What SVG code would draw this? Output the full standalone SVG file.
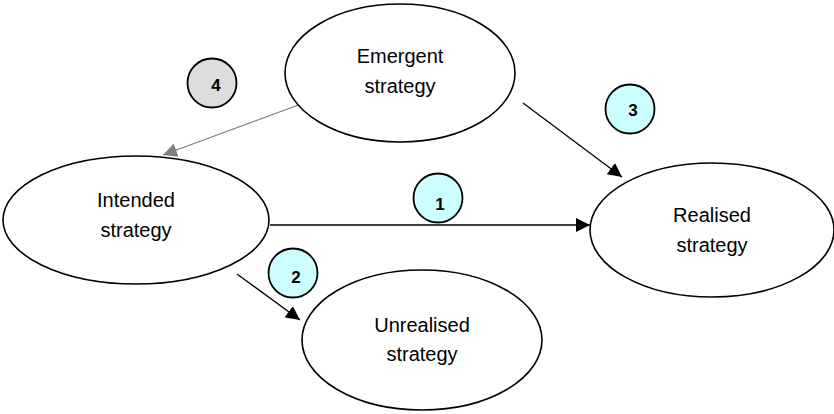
<svg xmlns="http://www.w3.org/2000/svg" width="834" height="414" viewBox="0 0 834 414">
<defs>
<style>
.node ellipse{fill:#fff;stroke:#000;stroke-width:1.6}
.lbl{font-family:"Liberation Sans",Arial,sans-serif;font-size:20px;text-anchor:middle;fill:#000}
.badge circle{stroke:#000;stroke-width:1.8}
.badge text{font-family:"Liberation Sans",Arial,sans-serif;font-size:17px;font-weight:bold;text-anchor:middle;fill:#000}
.cyan{fill:#ccffff}
.grey{fill:#dddddd}
.conn line{stroke-width:1.3}
</style>
<marker id="ah" viewBox="0 0 10 10" refX="10" refY="5" markerWidth="14" markerHeight="14" markerUnits="userSpaceOnUse" orient="auto"><path d="M0,0L10,5L0,10z" fill="#000"/></marker>
<marker id="ahg" viewBox="0 0 10 10" refX="10" refY="5" markerWidth="14" markerHeight="14" markerUnits="userSpaceOnUse" orient="auto"><path d="M0,0L10,5L0,10z" fill="#808080"/></marker>
</defs>
<rect width="834" height="414" fill="#fff"/>
<g id="connectors" class="conn">
<line x1="301" y1="104" x2="163" y2="155" stroke="#808080" marker-end="url(#ahg)"/>
<line x1="523" y1="103" x2="622" y2="177" stroke="#000" marker-end="url(#ah)"/>
<line x1="270" y1="225" x2="590" y2="225" stroke="#000" marker-end="url(#ah)"/>
<line x1="237" y1="274" x2="300" y2="320" stroke="#000" marker-end="url(#ah)"/>
</g>
<g id="emergent" class="node"><ellipse cx="400" cy="73" rx="115" ry="69"/><text class="lbl" x="400" y="63">Emergent</text><text class="lbl" x="400" y="93">strategy</text></g>
<g id="intended" class="node"><ellipse cx="136" cy="220" rx="133" ry="64"/><text class="lbl" x="136" y="207">Intended</text><text class="lbl" x="136" y="237">strategy</text></g>
<g id="realised" class="node"><ellipse cx="712" cy="230" rx="122" ry="67"/><text class="lbl" x="712" y="222">Realised</text><text class="lbl" x="712" y="252">strategy</text></g>
<g id="unrealised" class="node"><ellipse cx="422" cy="340" rx="120" ry="70"/><text class="lbl" x="422" y="332">Unrealised</text><text class="lbl" x="422" y="361">strategy</text></g>
<g id="badge1" class="badge"><circle class="cyan" cx="438" cy="198" r="24.5"/><text x="440" y="210">1</text></g>
<g id="badge2" class="badge"><circle class="cyan" cx="293" cy="273" r="24.5"/><text x="296" y="283">2</text></g>
<g id="badge3" class="badge"><circle class="cyan" cx="630" cy="109" r="24.5"/><text x="633" y="116">3</text></g>
<g id="badge4" class="badge"><circle class="grey" cx="212" cy="83" r="24.5"/><text x="216" y="91">4</text></g>
</svg>
